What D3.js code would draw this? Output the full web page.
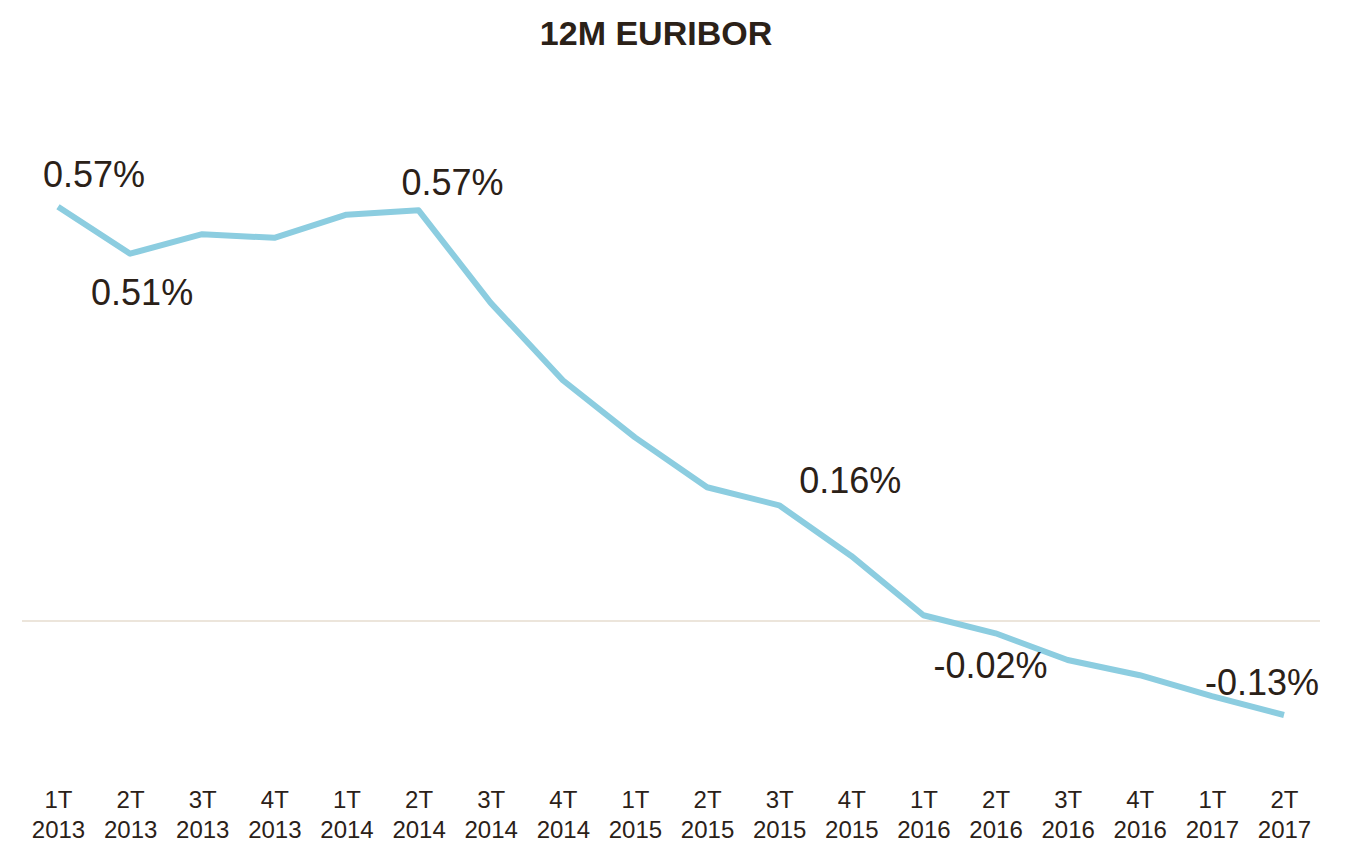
<!DOCTYPE html>
<html lang="en">
<head>
<meta charset="UTF-8">
<title>12M EURIBOR</title>
<script src="https://cdnjs.cloudflare.com/ajax/libs/d3/7.8.5/d3.min.js"></script>
<style>
  html, body { margin: 0; padding: 0; background: #fff; }
  svg { display: block; }
  .title { font-family: "Liberation Sans", Arial, sans-serif; font-weight: bold; font-size: 34px; fill: #2b2118; }
  .tick text { font-family: "Liberation Sans Narrow", "Liberation Sans", sans-serif; font-size: 24px; fill: #2b2118; }
  .lbl { font-family: "Liberation Sans", Arial, sans-serif; font-size: 36px; fill: #2b2118; }
</style>
</head>
<body>
<svg id="chart" width="1360" height="844"></svg>
<script>
const quarters = ["1T","2T","3T","4T","1T","2T","3T","4T","1T","2T","3T","4T","1T","2T","3T","4T","1T","2T"];
const years = ["2013","2013","2013","2013","2014","2014","2014","2014","2015","2015","2015","2015","2016","2016","2016","2016","2017","2017"];
const euribor = [0.573, 0.508, 0.535, 0.53, 0.562, 0.568, 0.44, 0.333, 0.254, 0.185, 0.16, 0.09, 0.008, -0.017, -0.054, -0.075, -0.104, -0.13];
const labelled = [0, 1, 5, 10, 13, 17];

const svg = d3.select("#chart");

const x = d3.scalePoint().domain(d3.range(quarters.length)).range([58, 1284]);
const y = d3.scaleLinear().domain([-0.15, 0.65]).range([621 + 0.15 * 723, 621 - 0.65 * 723]);

svg.append("text").attr("class", "title")
  .attr("x", 656).attr("y", 45).attr("text-anchor", "middle")
  .text("12M EURIBOR");

// zero line
svg.append("line")
  .attr("x1", 22).attr("x2", 1320)
  .attr("y1", y(0)).attr("y2", y(0))
  .attr("stroke", "#e6dccf").attr("stroke-width", 1.5);

// x axis labels (two lines)
const axis = svg.append("g").attr("transform", "translate(0,780)")
  .call(d3.axisBottom(x).tickSize(0).tickFormat(() => ""));
axis.select(".domain").remove();
axis.selectAll(".tick text").each(function(d) {
  const t = d3.select(this).attr("y", 0).attr("dy", null);
  t.append("tspan").attr("x", 0).attr("y", 28).text(quarters[d]);
  t.append("tspan").attr("x", 0).attr("y", 58).text(years[d]);
});

const line = d3.line().x((d, i) => x(i)).y(d => y(d));
svg.append("path").datum(euribor)
  .attr("d", line)
  .attr("fill", "none")
  .attr("stroke", "#8ccde0")
  .attr("stroke-width", 6)
  .attr("stroke-linejoin", "round");

// value labels
const offs = { 0: [36, -20], 1: [12, 51], 5: [34, -15], 10: [71, -12], 13: [-5, 45], 17: [-22, -20] };
svg.selectAll(".lbl").data(labelled).join("text")
  .attr("class", "lbl")
  .attr("text-anchor", "middle")
  .attr("x", i => x(i) + offs[i][0])
  .attr("y", i => y(euribor[i]) + offs[i][1])
  .text(i => euribor[i].toFixed(2) + "%");
</script>
</body>
</html>
